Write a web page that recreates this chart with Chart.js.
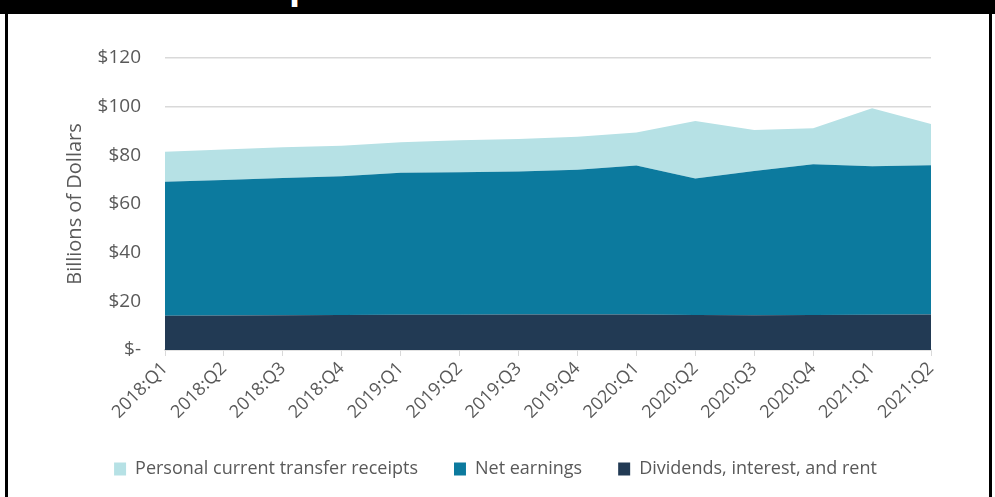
<!DOCTYPE html>
<html>
<head>
<meta charset="utf-8">
<script src="https://cdn.jsdelivr.net/npm/chart.js@4.4.1/dist/chart.umd.min.js"></script>
<style>
  html, body { margin:0; padding:0; background:#fff; }
  #wrap { position:relative; width:995px; height:497px; overflow:hidden; }
  #band { position:absolute; left:0; top:0; width:995px; height:14px; background:#000; overflow:hidden; }
  #band span { position:absolute; left:289px; top:-37px; color:#fff; line-height:46px;
               font:bold 40px "Liberation Sans", sans-serif; }
  .side { position:absolute; top:0; width:3px; height:497px; background:#000; }
  #chartBox { position:absolute; left:0; top:0; width:995px; height:497px; }
</style>
</head>
<body>
<div id="wrap">
  <div id="chartBox"><canvas id="c"></canvas></div>
  <div id="band"><span>p</span></div>
  <div class="side" style="left:5px"></div>
  <div class="side" style="left:989px"></div>
</div>
<script>
const quarters = ['2018:Q1','2018:Q2','2018:Q3','2018:Q4','2019:Q1','2019:Q2','2019:Q3','2019:Q4',
                  '2020:Q1','2020:Q2','2020:Q3','2020:Q4','2021:Q1','2021:Q2'];
// billions of dollars, stacked bottom to top
const dividends   = [14.1,14.2,14.3,14.4,14.5,14.5,14.6,14.6,14.6,14.4,14.3,14.4,14.5,14.6];
const netEarnings = [55.0,55.7,56.4,57.0,58.3,58.5,58.8,59.5,61.2,56.1,59.3,61.9,61.0,61.3];
const transfers   = [12.4,12.5,12.6,12.5,12.6,13.2,13.3,13.5,13.6,23.6,16.8,14.8,23.8,17.0];
const yTicks = [0,20,40,60,80,100,120];

const txt = '#595959';
const fontFam = '"Open Sans", sans-serif';

function area(label, data, color, fill) {
    return { label, data, backgroundColor:color, borderColor:color, borderWidth:0,
             pointRadius:0, fill, tension:0 };
}

new Chart(document.getElementById('c'), {
    type: 'line',
    data: {
        labels: quarters,
        datasets: [
            area('Dividends, interest, and rent', dividends, '#223a54', 'origin'),
            area('Net earnings', netEarnings, '#0c7a9e', '-1'),
            area('Personal current transfer receipts', transfers, '#b6e1e5', '-1')
        ]
    },
    options: {
        responsive:true, maintainAspectRatio:false, animation:false,
        layout: { padding: { left:60, right:64, top:58, bottom:9 } },
        plugins: {
            legend: { position:'bottom', reverse:true,
                labels: { boxWidth:12, boxHeight:13, padding:36, color:txt,
                          font:{ family:fontFam, size:18 } } },
            tooltip: { enabled:false }
        },
        scales: {
            x: { offset:false,
                 afterFit: ax => { ax.height = 74; },
                 grid: { drawOnChartArea:false, drawTicks:true, tickLength:6, color:'#d9d9d9' },
                 border: { color:'#d9d9d9', width:1.5 },
                 ticks: { color:txt, minRotation:45, maxRotation:45, padding:2,
                          font:{ family:fontFam, size:18 } } },
            y: { stacked:true, min:0, max:120,
                 afterFit: ax => { ax.width = 105; },
                 afterBuildTicks: ax => { ax.ticks = yTicks.map(v => ({ value:v })); },
                 grid: { color:'#d9d9d9', drawTicks:false, lineWidth:1.5 },
                 border: { display:false },
                 ticks: { color:txt, padding:24, font:{ family:fontFam, size:19 },
                          callback: v => v === 0 ? '$-' : '$' + v },
                 title: { display:true, text:'Billions of Dollars', color:txt,
                          font:{ family:fontFam, size:20 }, padding:{ top:3, bottom:0 } } }
        }
    }
});
</script>
</body>
</html>
